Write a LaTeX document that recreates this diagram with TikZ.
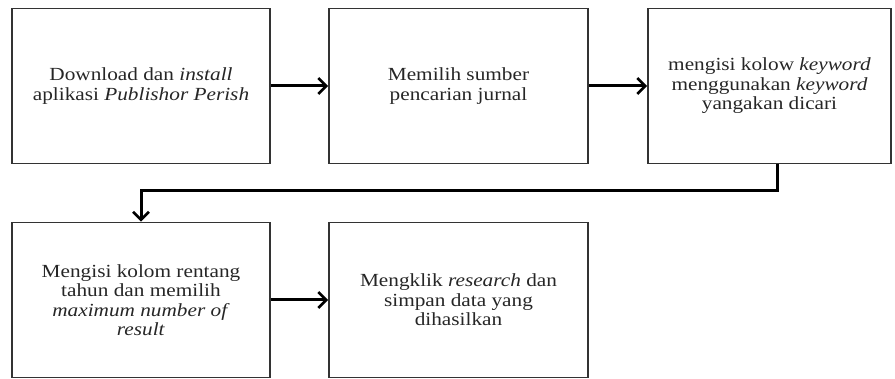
\documentclass[tikz,border=0pt]{standalone}
\usepackage{fontspec}
\setmainfont{Liberation Serif}[FakeStretch=1.15]
\usetikzlibrary{arrows.meta}
\begin{document}
\begin{tikzpicture}[
		x=1pt,y=-1pt,
		kotak/.style={draw=black!80,line width=1.8pt,minimum height=155pt,
				align=center,inner sep=0pt,text=black!85,
				font=\fontsize{18.5}{19.5}\selectfont},
		panah/.style={line width=3pt,-{Straight Barb[length=8pt,width=16pt,line width=2.6pt]}}
	]
	\useasboundingbox (0,0) rectangle (895,379);
	\node[kotak,minimum width=258pt] (unduh) at (141,86)
	{Download dan \textit{install}\\aplikasi \textit{Publishor Perish}};
	\node[kotak,minimum width=259pt] (sumber) at (458.5,86)
	{Memilih sumber\\pencarian jurnal};
	\node[kotak,minimum width=243pt] (kolom) at (769.5,86)
	{mengisi kolow \textit{keyword}\\menggunakan \textit{keyword}\\yangakan dicari};
	\node[kotak,minimum width=258pt] (rentang) at (141,300)
	{Mengisi kolom rentang\\tahun dan memilih\\\textit{maximum number of}\\\textit{result}};
	\node[kotak,minimum width=259pt] (klik) at (458.5,300)
	{Mengklik \textit{research} dan\\simpan data yang\\dihasilkan};
	\coordinate (belok) at (777,191);
	\draw[panah] (unduh) -- (sumber);
	\draw[panah] (sumber) -- (kolom);
	\draw[panah] (kolom.south -| belok) -- (belok) -| (rentang.north);
	\draw[panah] (rentang) -- (klik);
\end{tikzpicture}
\end{document}
